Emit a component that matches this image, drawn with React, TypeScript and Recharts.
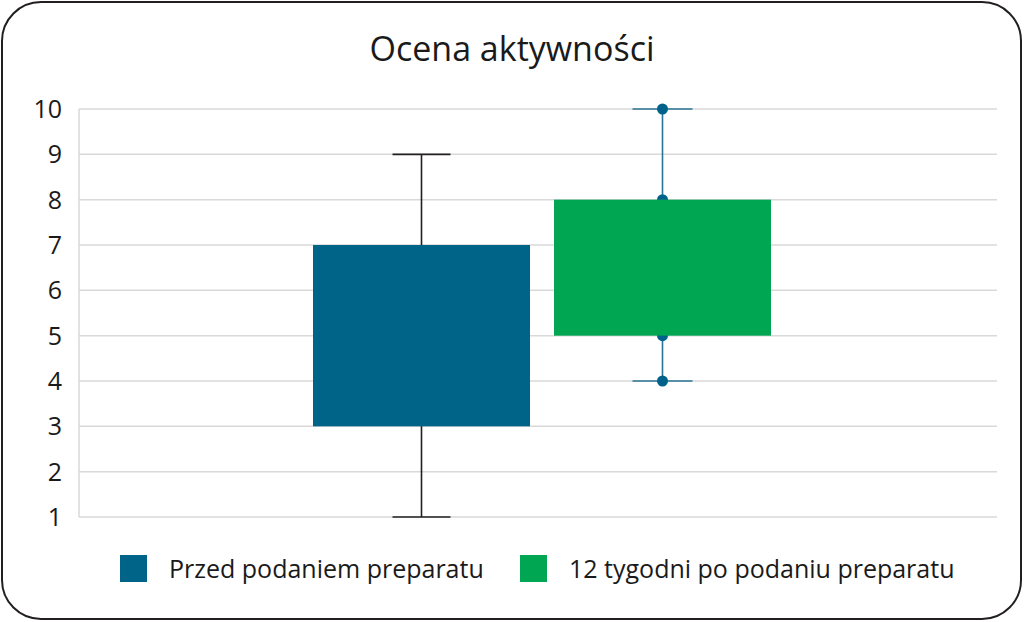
import { Bar, BarChart, CartesianGrid, XAxis, YAxis } from "recharts"

const title = "Ocena aktywności"
const groups = ["Przed podaniem preparatu", "12 tygodni po podaniu preparatu"]
const boxLow = [3, 5]
const boxHigh = [7, 8]
const whiskerMin = [1, 4]
const whiskerMax = [9, 10]
const showDots = [false, true]
const yTicks = [1, 2, 3, 4, 5, 6, 7, 8, 9, 10]

const boxColors = ["#006489", "#00a651"]
const whiskerColors = ["#231f20", "#2a7497"]
const dotColor = "#00628a"
const font = "'Open Sans', sans-serif"

const rows = [
  {
    name: title,
    before: [boxLow[0], boxHigh[0]],
    after: [boxLow[1], boxHigh[1]],
  },
]

function BoxShape(props: any) {
  const { x, y, width, height, idx } = props
  const top = Math.min(y, y + height)
  const h = Math.abs(height)
  // pixels per unit, from the bar the library already placed
  const ppu = h / (boxHigh[idx] - boxLow[idx])
  const yOf = (v: number) => top + (boxHigh[idx] - v) * ppu
  const cx = x + width / 2
  const capHalf = idx === 0 ? 29 : 30
  const stroke = whiskerColors[idx]
  const yMax = yOf(whiskerMax[idx])
  const yMin = yOf(whiskerMin[idx])
  const marks = [whiskerMax[idx], boxHigh[idx], boxLow[idx], whiskerMin[idx]]
  return (
    <g>
      <line x1={cx} x2={cx} y1={yMax} y2={yMin} stroke={stroke} strokeWidth={1.6} />
      <line x1={cx - capHalf} x2={cx + capHalf} y1={yMax} y2={yMax} stroke={stroke} strokeWidth={1.6} />
      <line x1={cx - capHalf} x2={cx + capHalf} y1={yMin} y2={yMin} stroke={stroke} strokeWidth={1.6} />
      {showDots[idx] &&
        marks.map((m) => <circle key={m} cx={cx} cy={yOf(m)} r={5.5} fill={dotColor} />)}
      <rect x={x} y={top} width={width} height={h} fill={boxColors[idx]} />
    </g>
  )
}

export default function App() {
  return (
    <div
      style={{
        position: "absolute",
        left: 0,
        top: 0,
        width: 1024,
        height: 622,
        background: "#fff",
        fontFamily: font,
      }}
    >
      <div
        style={{
          position: "absolute",
          left: 1,
          top: 1,
          width: 1017,
          height: 615,
          border: "2px solid #231f20",
          borderRadius: 40,
        }}
      />
      <div
        style={{
          position: "absolute",
          left: 0,
          top: 27,
          width: 1024,
          textAlign: "center",
          fontSize: 34,
          color: "#1a1a1a",
          lineHeight: "42px",
        }}
      >
        {title}
      </div>
      <BarChart
        width={1024}
        height={622}
        data={rows}
        margin={{ top: 109, right: 27, bottom: 105, left: 19 }}
        barSize={217}
        barGap={24}
        style={{ position: "absolute", left: 0, top: 0 }}
      >
        <CartesianGrid vertical={false} stroke="#d9d9d9" strokeWidth={1.5} />
        <XAxis dataKey="name" hide padding={{ left: 8, right: 0 }} />
        <YAxis
          width={60}
          domain={[1, 10]}
          ticks={yTicks}
          interval={0}
          tickLine={false}
          tickMargin={11}
          axisLine={{ stroke: "#d9d9d9", strokeWidth: 1.5 }}
          tick={{ fill: "#1a1a1a", fontSize: 25, fontFamily: font }}
        />
        <Bar dataKey="before" isAnimationActive={false} shape={(p: any) => <BoxShape {...p} idx={0} />} />
        <Bar dataKey="after" isAnimationActive={false} shape={(p: any) => <BoxShape {...p} idx={1} />} />
      </BarChart>
      {groups.map((g, i) => (
        <div
          key={g}
          style={{
            position: "absolute",
            left: i === 0 ? 120 : 520,
            top: 552,
            display: "flex",
            alignItems: "center",
            height: 32,
          }}
        >
          <span style={{ width: 27, height: 27, background: boxColors[i], display: "inline-block" }} />
          <span style={{ marginLeft: 22, fontSize: 25, color: "#1a1a1a", whiteSpace: "nowrap" }}>{g}</span>
        </div>
      ))}
    </div>
  )
}
